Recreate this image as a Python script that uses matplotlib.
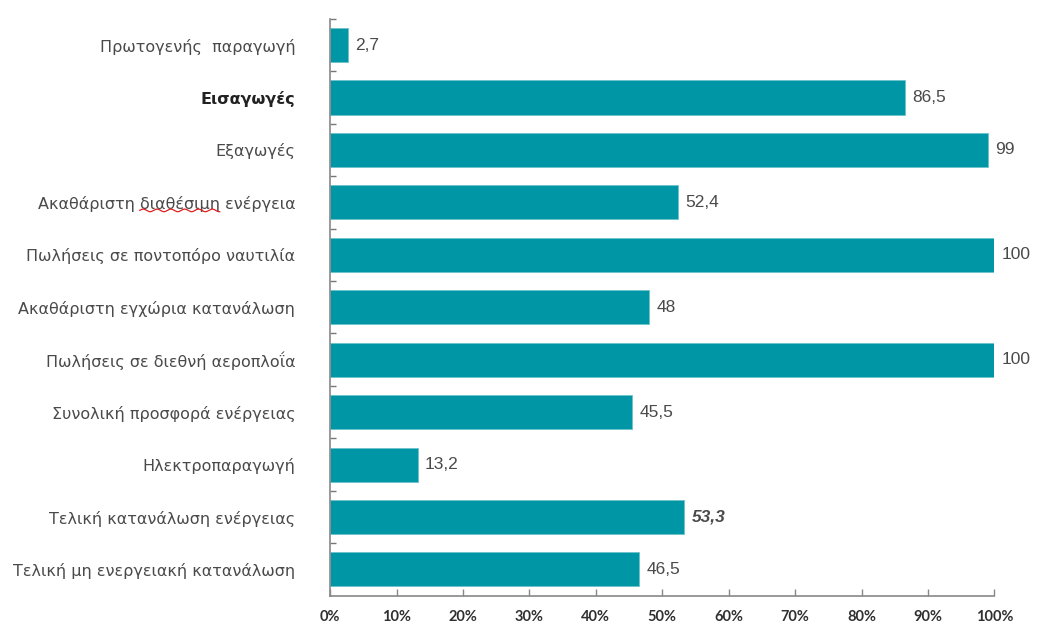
import matplotlib
matplotlib.use("Agg")
import matplotlib.pyplot as plt
import numpy as np

katigories = [
    "Πρωτογενής  παραγωγή",
    "Εισαγωγές",
    "Εξαγωγές",
    "Ακαθάριστη διαθέσιμη ενέργεια",
    "Πωλήσεις σε ποντοπόρο ναυτιλία",
    "Ακαθάριστη εγχώρια κατανάλωση",
    "Πωλήσεις σε διεθνή αεροπλοΐα",
    "Συνολική προσφορά ενέργειας",
    "Ηλεκτροπαραγωγή",
    "Τελική κατανάλωση ενέργειας",
    "Τελική μη ενεργειακή κατανάλωση",
]
times = [2.7, 86.5, 99, 52.4, 100, 48, 100, 45.5, 13.2, 53.3, 46.5]
etiketes = ["2,7", "86,5", "99", "52,4", "100", "48", "100", "45,5", "13,2", "53,3", "46,5"]
x_ticks = list(range(0, 101, 10))

TEAL = "#0096a6"
GRI = "#4a4a4a"
LABEL_FONT = dict(family="DejaVu Sans", size=11.5)

fig = plt.figure(figsize=(10.38, 6.29), dpi=100)
ax = fig.add_axes([0.318, 0.053, 0.640, 0.917])

y = np.arange(len(katigories))
bars = ax.barh(y, times, height=0.65, color=TEAL, edgecolor="#6cc4cc", linewidth=0.6)

ax.set_ylim(len(katigories) - 0.5, -0.5)
ax.set_xlim(0, 100)

for b, lab in zip(bars, etiketes):
    italic = lab == "53,3"
    ax.text(b.get_width() + 1.1, b.get_y() + b.get_height() / 2, lab,
            va="center", ha="left", fontsize=12.5, color=GRI,
            family="Liberation Sans",
            style="italic" if italic else "normal",
            weight="bold" if italic else "normal")

ax.set_yticks(y)
ax.set_yticklabels(katigories, color=GRI, **LABEL_FONT)
for t in ax.get_yticklabels():
    if t.get_text() == "Εισαγωγές":
        t.set_color("#222222")
        t.set_fontweight("bold")
ax.tick_params(axis="y", which="major", length=0, pad=25)
ax.set_yticks(np.arange(len(katigories)) - 0.5, minor=True)
ax.tick_params(axis="y", which="minor", direction="in", length=4, width=1, color="#777777")

ax.set_xticks(x_ticks)
ax.set_xticklabels([f"{v}%" for v in x_ticks], fontsize=10.5, color="#303030",
                   family="Lato", weight="bold")
ax.tick_params(axis="x", direction="in", length=5, width=1, color="#888888", pad=10)

for s in ["top", "right"]:
    ax.spines[s].set_visible(False)
for s in ["left", "bottom"]:
    ax.spines[s].set_color("#888888")
    ax.spines[s].set_linewidth(1.2)

# κόκκινη κυματιστή υπογράμμιση (ορθογραφικός έλεγχος) κάτω από το "διαθέσιμη"
fig.canvas.draw()
renderer = fig.canvas.get_renderer()
label = [t for t in ax.get_yticklabels() if t.get_text().startswith("Ακαθάριστη διαθέσιμη")][0]
bb = label.get_window_extent(renderer)

def platos(s):
    t = fig.text(0, 0, s, **LABEL_FONT)
    w = t.get_window_extent(renderer).width
    t.remove()
    return w

x0 = bb.x0 + platos("Ακαθάριστη ")
x1 = bb.x0 + platos("Ακαθάριστη διαθέσιμη")
xs = np.linspace(x0, x1, 200)
ys = bb.y0 + 1.5 + 1.3 * np.sin((xs - x0) / 2.2)
fig.add_artist(plt.Line2D(xs / fig.bbox.width, ys / fig.bbox.height,
                          color="#e02020", linewidth=0.9))

fig.savefig("out.png", dpi=100, facecolor="white")
